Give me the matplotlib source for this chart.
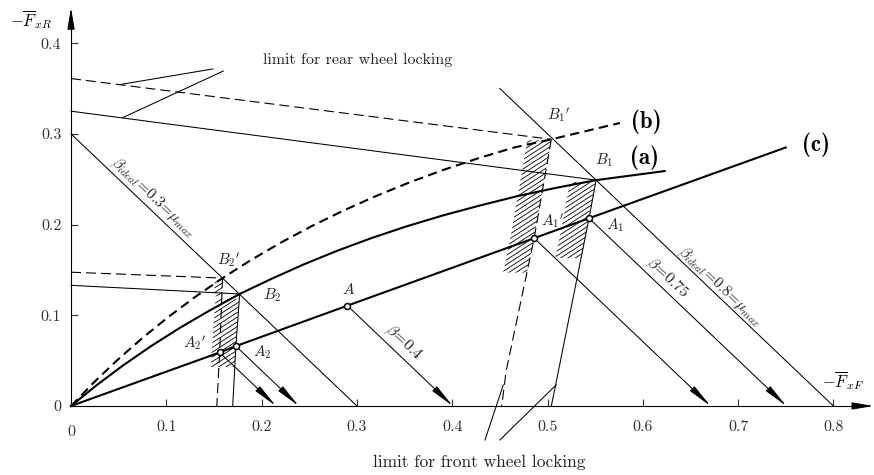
import numpy as np
import matplotlib
matplotlib.use("Agg")
import matplotlib.pyplot as plt
from matplotlib.patches import Polygon
from matplotlib.collections import LineCollection

plt.rcParams["mathtext.fontset"] = "cm"
plt.rcParams["font.family"] = ["cmr10"]
plt.rcParams["axes.formatter.use_mathtext"] = True

# --- data (normalised braking forces) ---
# (a) ideal braking force distribution, mu-dependent
curve_a_x = [0, 0.027, 0.055, 0.084, 0.114, 0.145, 0.177, 0.210, 0.244, 0.279,
             0.315, 0.352, 0.390, 0.429, 0.469, 0.509, 0.551, 0.623]
curve_a_y = [0, 0.023, 0.045, 0.066, 0.086, 0.105, 0.1235, 0.140, 0.156, 0.171,
             0.185, 0.198, 0.210, 0.221, 0.2315, 0.2405, 0.249, 0.259]
# (b) ideal distribution, loaded vehicle
curve_b_x = [0, 0.024, 0.049, 0.075, 0.102, 0.130, 0.159, 0.189, 0.220, 0.252,
             0.285, 0.319, 0.354, 0.390, 0.427, 0.465, 0.504, 0.576]
curve_b_y = [0, 0.026, 0.051, 0.075, 0.098, 0.120, 0.141, 0.161, 0.180, 0.198,
             0.215, 0.231, 0.246, 0.260, 0.273, 0.285, 0.294, 0.312]
# (c) installed (fixed) distribution
curve_c_x = [0, 0.156, 0.173, 0.290, 0.486, 0.5436, 0.750]
curve_c_y = [0, 0.059, 0.066, 0.1106, 0.185, 0.207, 0.285]

# operating points on (c)
pt_names = ["A_2{}^{\\prime}", "A_2", "A", "A_1{}^{\\prime}", "A_1"]
pt_x = [0.156, 0.173, 0.290, 0.486, 0.5436]
pt_y = [0.059, 0.066, 0.1106, 0.185, 0.207]

# rear wheel locking limits (solid: case a, dashed: case b)
rear_hi_x, rear_hi_y = [0, 0.551], [0.325, 0.249]
rear_hi_dash_x, rear_hi_dash_y = [0, 0.504], [0.361, 0.294]
rear_lo_x, rear_lo_y = [0, 0.177], [0.133, 0.1235]
rear_lo_dash_x, rear_lo_dash_y = [0, 0.159], [0.1475, 0.141]

# front wheel locking limits
front_hi_x, front_hi_y = [0.551, 0.5436, 0.5085, 0.504], [0.249, 0.207, 0.023, 0]
front_hi_dash_x, front_hi_dash_y = [0.504, 0.486, 0.4565, 0.452], [0.294, 0.185, 0.038, 0]
front_lo_x, front_lo_y = [0.177, 0.173, 0.1697], [0.1235, 0.066, 0]
front_lo_dash_x, front_lo_dash_y = [0.159, 0.156, 0.153], [0.141, 0.059, 0]

# beta_ideal lines (x + y = mu_max)
ideal_03_x, ideal_03_y = [0, 0.3], [0.3, 0]
ideal_08_x, ideal_08_y = [0.45, 0.8], [0.35, 0]

x_ticks = [0.1, 0.2, 0.3, 0.4, 0.5, 0.6, 0.7, 0.8]
y_ticks = [0, 0.1, 0.2, 0.3, 0.4]

fig = plt.figure(figsize=(8.74, 4.75), dpi=100)
ax = fig.add_axes([0, 0, 1, 1])
ax.set_xlim(-0.0745, 0.8426)
ax.set_ylim(-0.0761, 0.4476)

for s in ["top", "right"]:
    ax.spines[s].set_visible(False)
ax.spines["left"].set_position(("data", 0))
ax.spines["bottom"].set_position(("data", 0))
ax.spines["left"].set_bounds(0, 0.43)
ax.spines["bottom"].set_bounds(0, 0.83)
ax.spines["left"].set_linewidth(0.8)
ax.spines["bottom"].set_linewidth(0.8)
ax.set_xticks(x_ticks)
ax.set_xticklabels([f"{v:g}" for v in x_ticks], fontfamily="cmr10", fontsize=11.5)
ax.set_yticks(y_ticks)
ax.set_yticklabels([f"{v:g}" for v in y_ticks], fontfamily="cmr10", fontsize=11.5)
ax.tick_params(axis="x", direction="in", length=5, width=0.8, pad=10, colors="#333")
ax.tick_params(axis="y", direction="in", length=5, width=0.8, pad=7, colors="#333")
ax.text(0, -0.0215, "0", ha="center", va="top", fontsize=11.5, color="#333")

axis_arrow = dict(arrowstyle="-|>,head_length=1.3,head_width=0.22", color="k",
                  lw=0.8, shrinkA=0, shrinkB=0, mutation_scale=10)
ax.annotate("", xy=(0.842, 0), xytext=(0.82, 0), arrowprops=axis_arrow)
ax.annotate("", xy=(0, 0.439), xytext=(0, 0.42), arrowprops=axis_arrow)

thin = dict(color="k", lw=0.75)
dash = dict(color="k", lw=0.8, linestyle=(0, (9, 4.5)))

# curves
ax.plot(curve_a_x, curve_a_y, color="k", lw=1.5)
ax.plot(curve_b_x, curve_b_y, color="k", lw=1.5, linestyle=(0, (4.5, 2.6)))
ax.plot(curve_c_x, curve_c_y, color="k", lw=1.5)

# locking limits
ax.plot(rear_hi_x, rear_hi_y, **thin)
ax.plot(rear_lo_x, rear_lo_y, **thin)
ax.plot(rear_hi_dash_x, rear_hi_dash_y, **dash)
ax.plot(rear_lo_dash_x, rear_lo_dash_y, **dash)
ax.plot(front_hi_x, front_hi_y, **thin)
ax.plot(front_lo_x, front_lo_y, **thin)
ax.plot(front_hi_dash_x, front_hi_dash_y, **dash)
ax.plot(front_lo_dash_x, front_lo_dash_y, **dash)
ax.plot(ideal_03_x, ideal_03_y, **thin)
ax.plot(ideal_08_x, ideal_08_y, **thin)

# beta lines from operating points down to the axis
beta_arrow = dict(arrowstyle="-|>,head_length=1.5,head_width=0.2", color="k",
                  lw=0.75, shrinkA=0, shrinkB=0, mutation_scale=10)
for x, y in zip(pt_x, pt_y):
    ax.annotate("", xy=(x + y, 0), xytext=(x, y), arrowprops=beta_arrow)
ax.plot(pt_x, pt_y, "o", ms=4.3, mfc="white", mec="k", mew=1.1, zorder=5)


def hatch_strip(xs, ys, width, y_lo, y_hi, k=0.68, step=0.0052):
    xs = np.asarray(xs)[::-1]
    ys = np.asarray(ys)[::-1]
    yy = np.linspace(y_lo, y_hi, 20)
    xx = np.interp(yy, ys, xs)
    verts = np.column_stack([np.r_[xx, xx[::-1] - width], np.r_[yy, yy[::-1]]])
    patch = Polygon(verts, closed=True, fill=False, lw=0)
    ax.add_patch(patch)
    x0, x1 = xx.min() - width - 0.05, xx.max() + 0.05
    cs = np.arange(y_lo - k * x1 - 0.05, y_hi - k * x0 + 0.05, step)
    segs = [[(x0, c + k * x0), (x1, c + k * x1)] for c in cs]
    lc = LineCollection(segs, colors="k", linewidths=0.6)
    lc.set_clip_path(patch)
    ax.add_collection(lc)


hatch_strip(front_hi_dash_x, front_hi_dash_y, 0.025, 0.147, 0.293)
hatch_strip(front_hi_x, front_hi_y, 0.027, 0.163, 0.247)
hatch_strip(front_lo_x, front_lo_y, 0.025, 0.043, 0.118)
hatch_strip(front_lo_dash_x, front_lo_dash_y, 0.008, 0.121, 0.139)

# rotated beta labels
p0 = ax.transData.transform((0, 0))
p1 = ax.transData.transform((1, -1))
ang = np.degrees(np.arctan2(p1[1] - p0[1], p1[0] - p0[0]))
rot = dict(rotation=ang, rotation_mode="anchor", ha="center", va="center", color="#222")
ax.text(0.0861, 0.2293, r"$\beta_{ideal}\!=\!0.3\!=\!\mu_{max}$", fontsize=11, **rot)
ax.text(0.3484, 0.0695, r"$\beta\!=\!0.4$", fontsize=11.5, **rot)
ax.text(0.6254, 0.1411, r"$\beta\!=\!0.75$", fontsize=11.5, **rot)
ax.text(0.681, 0.1312, r"$\beta_{ideal}\!=\!0.8\!=\!\mu_{max}$", fontsize=11, **rot)

# point labels
lab = dict(ha="center", va="center", fontsize=11, color="#222")
ax.text(0.512, 0.321, r"$B_1{}^{\prime}$", **lab)
ax.text(0.5593, 0.2712, r"$B_1$", **lab)
ax.text(0.1658, 0.161, r"$B_2{}^{\prime}$", **lab)
ax.text(0.2109, 0.1224, r"$B_2$", **lab)
label_pos = [(0.1301, 0.0695), (0.2004, 0.0595), (0.2907, 0.1279),
             (0.5058, 0.204), (0.5708, 0.1996)]
for name, (lx, ly) in zip(pt_names, label_pos):
    ax.text(lx, ly, f"${name}$", **lab)

bold = dict(ha="center", va="center", fontsize=16.5, fontfamily="cmb10")
ax.text(0.6034, 0.3131, "(b)", **bold)
ax.text(0.6013, 0.2734, "(a)", **bold)
ax.text(0.7817, 0.2878, "(c)", **bold)

# axis names
ax.text(-0.042, 0.4256, r"$-\overline{F}_{xR}$", ha="center", va="center", fontsize=12)
ax.text(0.810, 0.0276, r"$-\overline{F}_{xF}$", ha="center", va="center", fontsize=12)

# annotations with leader lines
ax.text(0.301, 0.3815, "limit for rear wheel locking", ha="center", va="center",
        fontsize=11.5, color="#222")
ax.plot([0.149, 0.0532], [0.3716, 0.3547], **thin)
ax.plot([0.1598, 0.0543], [0.3693, 0.3179], **thin)
ax.text(0.428, -0.0617, "limit for front wheel locking", ha="center", va="center",
        fontsize=12.5, color="#222")
ax.plot([0.4344, 0.4536], [-0.0375, 0.0232], **thin)
ax.plot([0.450, 0.509], [-0.0375, 0.0232], **thin)

fig.savefig("out.png", dpi=100)
